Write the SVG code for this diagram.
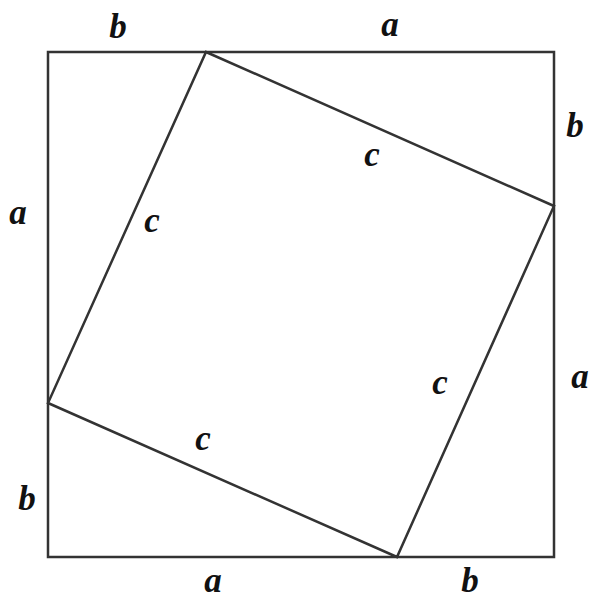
<svg xmlns="http://www.w3.org/2000/svg" width="593" height="601" viewBox="0 0 593 601">
<style>
.ln{fill:none;stroke:#333;stroke-width:2.5;stroke-linejoin:miter}
.lb{font-family:"Liberation Serif","Times New Roman",serif;font-style:italic;font-weight:bold;font-size:35px;fill:#111;text-anchor:middle}
</style>
<rect width="593" height="601" fill="#fff"/>
<g id="outer"><rect class="ln" x="48" y="52" width="506" height="505"/></g>
<g id="inner"><polygon class="ln" points="206,52 554,206 397,557 48,403"/></g>
<g id="labels">
<text class="lb" x="118" y="38">b</text>
<text class="lb" x="390" y="36">a</text>
<text class="lb" x="575" y="137">b</text>
<text class="lb" x="18" y="224">a</text>
<text class="lb" x="372" y="166">c</text>
<text class="lb" x="152" y="232">c</text>
<text class="lb" x="580" y="388">a</text>
<text class="lb" x="440" y="394">c</text>
<text class="lb" x="203" y="450">c</text>
<text class="lb" x="27" y="510">b</text>
<text class="lb" x="213" y="592">a</text>
<text class="lb" x="470" y="592">b</text>
</g>
</svg>
